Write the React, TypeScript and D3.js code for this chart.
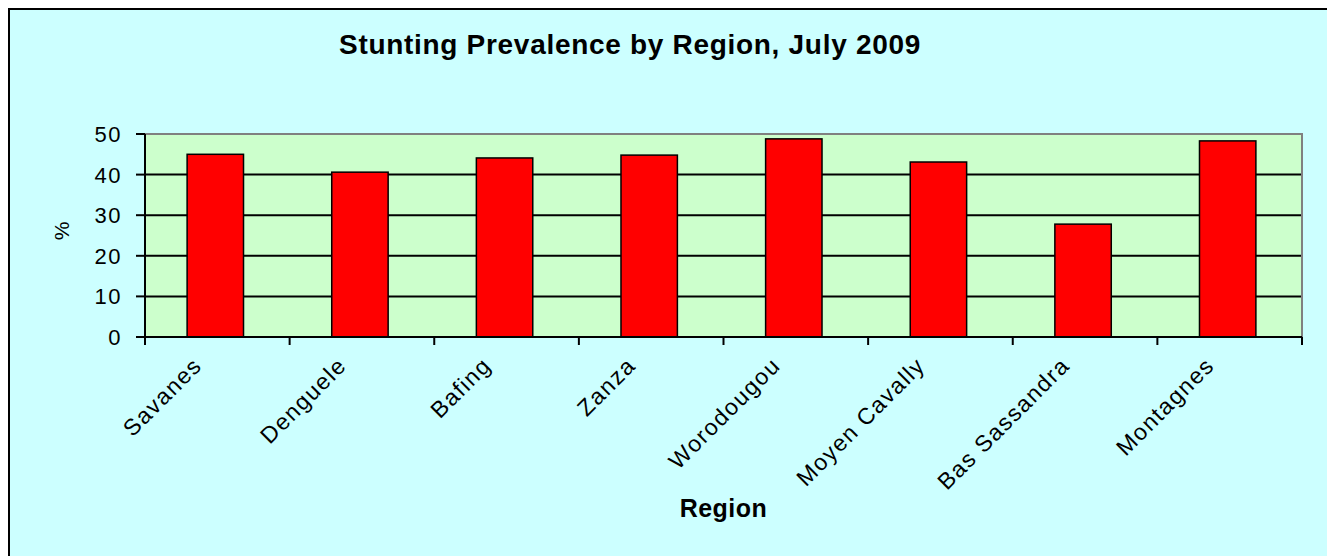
import React from "react";
import { scaleBand, scaleLinear } from "d3";

// data
const regions = [
  "Savanes",
  "Denguele",
  "Bafing",
  "Zanza",
  "Worodougou",
  "Moyen Cavally",
  "Bas Sassandra",
  "Montagnes",
];
const stunting = [45.0, 40.6, 44.1, 44.8, 48.8, 43.1, 27.8, 48.3];
const yTicks = [0, 10, 20, 30, 40, 50];

const W = 1327;
const H = 556;
const plot = { left: 145, right: 1302, top: 134, bottom: 337 };
const font = "Arial, 'Liberation Sans', sans-serif";

function App() {
  const x = scaleBand<string>()
    .domain(regions)
    .range([plot.left, plot.right])
    .padding(0);
  const y = scaleLinear().domain([0, 50]).range([plot.bottom, plot.top]);
  const barW = x.bandwidth() * 0.39;
  const step = x.step();

  return (
    <svg
      width={W}
      height={H}
      style={{ position: "absolute", left: 0, top: 0 }}
      fontFamily={font}
    >
      <rect x={0} y={0} width={W} height={H} fill="#ffffff" />
      {/* chart area with its frame */}
      <rect x={9} y={9} width={W + 20} height={H + 20} fill="#ccffff" stroke="#000" strokeWidth={2} />

      {/* title */}
      <text
        x={630}
        y={54}
        textAnchor="middle"
        fontSize={28}
        fontWeight="bold"
        letterSpacing={0.7}
      >
        Stunting Prevalence by Region, July 2009
      </text>

      {/* plot area */}
      <rect
        x={plot.left}
        y={plot.top}
        width={plot.right - plot.left}
        height={plot.bottom - plot.top}
        fill="#ccffcc"
      />
      {/* gridlines */}
      {yTicks
        .filter((t) => t > 0 && t < 50)
        .map((t) => (
          <line
            key={"g" + t}
            x1={plot.left}
            x2={plot.right}
            y1={y(t)}
            y2={y(t)}
            stroke="#000"
            strokeWidth={2}
          />
        ))}
      {/* top / right frame in grey */}
      <polyline
        points={`${plot.left},${plot.top} ${plot.right},${plot.top} ${plot.right},${plot.bottom}`}
        fill="none"
        stroke="#808080"
        strokeWidth={2}
      />

      {/* bars */}
      {regions.map((r, i) => (
        <rect
          key={r}
          x={(x(r) as number) + (x.bandwidth() - barW) / 2 - 2}
          y={y(stunting[i])}
          width={barW}
          height={y(0) - y(stunting[i])}
          fill="#ff0000"
          stroke="#000"
          strokeWidth={1.5}
        />
      ))}

      {/* y axis */}
      <line x1={plot.left} x2={plot.left} y1={plot.top} y2={plot.bottom + 7} stroke="#000" strokeWidth={2} />
      {yTicks.map((t) => (
        <g key={"y" + t}>
          <line x1={plot.left - 9} x2={plot.left} y1={y(t)} y2={y(t)} stroke="#000" strokeWidth={2} />
          <text
            x={122}
            y={y(t)}
            dy="0.36em"
            textAnchor="end"
            fontSize={22}
            letterSpacing={1.5}
            fill="#000"
          >
            {t}
          </text>
        </g>
      ))}
      <text
        transform={`translate(69,231) rotate(-90)`}
        textAnchor="middle"
        fontSize={21}
        fill="#000"
      >
        %
      </text>

      {/* x axis */}
      <line x1={plot.left} x2={plot.right} y1={plot.bottom} y2={plot.bottom} stroke="#000" strokeWidth={2} />
      {[...regions.map((r) => x(r) as number), plot.right].map((px, i) => (
        <line key={"xt" + i} x1={px} x2={px} y1={plot.bottom} y2={plot.bottom + 8} stroke="#000" strokeWidth={2} />
      ))}
      {regions.map((r) => {
        const cx = (x(r) as number) + step / 2 - 14;
        return (
          <text
            key={"xl" + r}
            transform={`translate(${cx},367) rotate(-45)`}
            textAnchor="end"
            fontSize={23}
            letterSpacing={1.5}
            fill="#000"
          >
            {r}
          </text>
        );
      })}
      <text
        x={(plot.left + plot.right) / 2}
        y={517}
        textAnchor="middle"
        fontSize={25}
        fontWeight="bold"
        letterSpacing={0.5}
      >
        Region
      </text>
    </svg>
  );
}

export default App;
